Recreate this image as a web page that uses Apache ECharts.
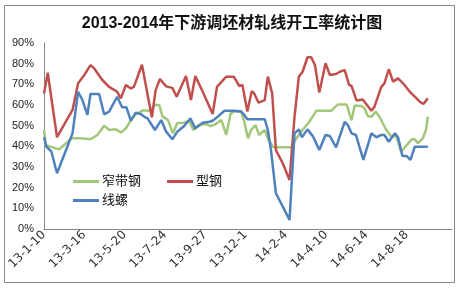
<!DOCTYPE html>
<html>
<head>
<meta charset="utf-8">
<script src="https://cdn.jsdelivr.net/npm/echarts@6/dist/echarts.min.js"></script>
<style>html,body{margin:0;padding:0;background:#fff;}#c{width:464px;height:289px;}</style>
</head>
<body>
<div id="c"></div>
<script>
// x values are days counted from 2013-01-10 (the first tick), y values are percent
const startDate = [2013, 0, 10];
const tickDays = 65;
const axisMaxDay = 658;
const yTicks = [0, 10, 20, 30, 40, 50, 60, 70, 80, 90];

const narrowStripDays = [0,3,24,45,59,75,86,97,105,116,124,132,140,148,160,170,179,186,191,200,208,215,226,234,241,250,261,269,277,286,294,301,307,318,323,329,334,341,347,356,361,369,374,399,407,417,428,439,463,474,488,496,501,512,517,522,528,535,541,547,552,560,568,576,585,593,598,603,611,616,619];
const narrowStripVals = [47.9,40.6,38.5,43.9,43.9,43.4,45.5,50,47.9,48.3,46.7,48.7,52.5,55.5,57.4,57.2,60,60,54.5,52.7,46.3,51.3,51.4,52.4,47.9,50.3,50.8,49.8,50.8,52.7,45.5,56,56.8,56.8,51.9,43.9,47.9,50.3,45.5,47.9,43.9,39.8,39.5,39.5,43.9,47.9,51.9,57.2,57.2,60.3,60.3,52.6,59.7,59.5,58.4,54.7,54.3,56.8,54.3,50.8,47.9,44.7,45,37.4,40.6,43.4,43.4,41.5,43.9,47.9,54.3];

const sectionDays = [0,6,21,46,55,65,75,81,94,105,118,124,132,140,145,158,174,180,187,197,207,214,229,237,244,256,272,279,294,306,315,320,328,335,339,346,356,361,368,374,385,396,404,411,417,425,431,437,444,454,461,471,477,485,492,496,504,514,528,533,544,549,556,563,571,579,590,598,606,612,619];
const sectionVals = [65.6,75.6,44.4,57.6,70.5,74.5,79.3,77.7,72.1,68.8,66.4,63.2,69.7,68,68.8,79.5,54,67.2,72.6,69,68.3,64,74,62.4,74,66.4,55.6,68.8,73.7,73.7,69.2,69.7,56.8,66.7,65.6,61.1,62.4,73.7,65.6,38.2,31.8,23.7,54.3,73.7,76.1,83.1,83.1,79.3,66,80.2,74.5,75,76.1,76.9,69.7,69.2,62.2,62.7,57.2,59.2,68.8,70.5,77.3,71.3,72.9,70.5,66.4,64,61.6,60.5,63.2];

const wireRodDays = [0,4,12,21,46,55,62,70,75,89,97,105,118,126,133,140,148,156,162,167,179,189,197,207,215,226,236,244,256,267,272,280,291,307,318,323,328,356,361,366,374,396,404,411,416,425,434,444,454,461,471,485,490,496,503,515,528,536,544,549,556,566,571,578,585,591,598,619];
const wireRodVals = [44.4,39.8,37.4,27,46.3,66.4,62.4,55.2,65.3,65.3,55.5,56.8,64,58.9,58.9,52.4,56.3,55.6,54.3,53.5,47.9,52.7,47.1,43.4,47.1,49.8,53.5,48.7,51.4,51.9,52.4,54.3,57.2,57.2,56.8,55.2,53.1,53.1,47.9,38.2,17.3,4.4,46.3,48.2,44.4,48.2,44.7,38.2,45.5,45,39.5,51.9,50.3,46.3,45.5,33.4,46.3,44.4,45.5,45.5,42.2,46.3,44.4,35.3,35.3,33.4,39.8,39.8];

const seriesNames = ['窄带钢', '型钢', '线螺'];
const seriesColors = ['#a3c77a', '#c0504d', '#4f81bd'];
const titleText = '2013-2014年下游调坯材轧线开工率统计图';

function pairs(xs, ys) { return xs.map((x, i) => [x, ys[i]]); }
function dayLabel(v) {
  if (v > 600) return '';
  const d = new Date(startDate[0], startDate[1], startDate[2] + v);
  return String(d.getFullYear()).slice(2) + '-' + (d.getMonth() + 1) + '-' + d.getDate();
}

const chart = echarts.init(document.getElementById('c'), null, {renderer: 'canvas'});
const cjk = '"Liberation Sans", "Noto Sans CJK SC", sans-serif';
const lineSeries = (name, data, color) => ({
  name, type: 'line', data, showSymbol: false, symbol: 'none',
  lineStyle: {color, width: 2.5}, itemStyle: {color}, animation: false
});

chart.setOption({
  animation: false,
  backgroundColor: '#fff',
  title: {
    text: titleText, left: 'center', top: 16, padding: 0,
    textStyle: {fontSize: 16, fontWeight: 'bold', color: '#111', fontFamily: cjk}
  },
  legend: [
    {data: [seriesNames[0], seriesNames[1]], left: 73, top: 175, padding: 0,
     itemWidth: 26, itemHeight: 3, itemGap: 26, icon: 'rect',
     textStyle: {fontSize: 13, color: '#111', fontFamily: cjk, padding: [0, 0, 0, -2]}},
    {data: [seriesNames[2]], left: 73, top: 194, padding: 0,
     itemWidth: 26, itemHeight: 3, icon: 'rect',
     textStyle: {fontSize: 13, color: '#111', fontFamily: cjk, padding: [0, 0, 0, -2]}}
  ],
  grid: {left: 44, right: 12, top: 43, bottom: 60},
  xAxis: {
    type: 'value', min: 0, max: axisMaxDay, interval: tickDays,
    splitLine: {show: false},
    axisLine: {lineStyle: {color: '#888', width: 1}},
    axisTick: {show: false},
    axisLabel: {rotate: 45, fontSize: 12, color: '#333', margin: 4,
      fontFamily: '"DejaVu Sans", sans-serif', formatter: dayLabel}
  },
  yAxis: {
    type: 'value', min: yTicks[0], max: yTicks[yTicks.length - 1], interval: 10,
    splitLine: {show: false},
    axisLine: {show: true, lineStyle: {color: '#888', width: 1}},
    axisTick: {show: false},
    axisLabel: {fontSize: 11, color: '#222', margin: 10,
      fontFamily: '"Liberation Sans", sans-serif', formatter: '{value}%'}
  },
  graphic: [
    {type: 'rect', shape: {x: 4.5, y: 5.5, width: 450, height: 277},
     style: {fill: 'none', stroke: '#888', lineWidth: 1}, silent: true}
  ],
  series: [
    lineSeries(seriesNames[0], pairs(narrowStripDays, narrowStripVals), seriesColors[0]),
    lineSeries(seriesNames[1], pairs(sectionDays, sectionVals), seriesColors[1]),
    lineSeries(seriesNames[2], pairs(wireRodDays, wireRodVals), seriesColors[2])
  ]
});
</script>
</body>
</html>
